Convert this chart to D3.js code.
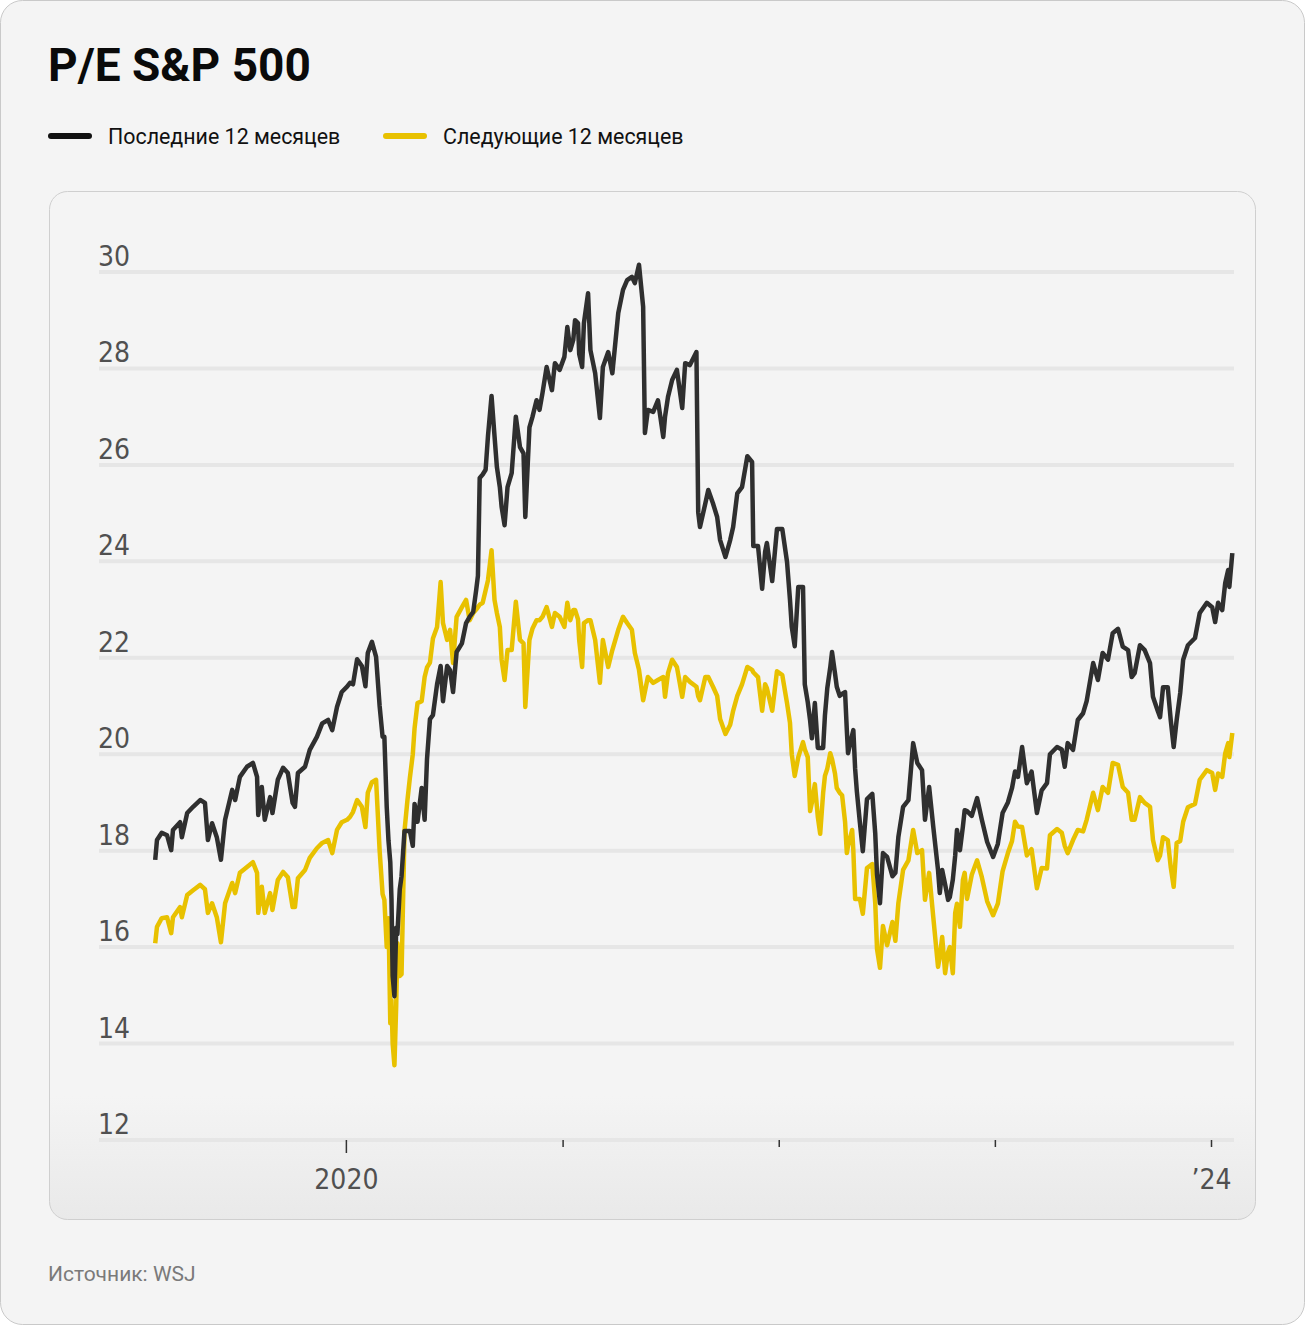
<!DOCTYPE html>
<html><head><meta charset="utf-8">
<script src="https://cdn.jsdelivr.net/npm/d3@7"></script>
<style>html,body{margin:0;padding:0;background:#ffffff;} svg{display:block;}</style>
</head><body>
<script>
const titleText = "P/E S&P 500";
const seriesNames = ["Последние 12 месяцев", "Следующие 12 месяцев"];
const sourceText = "Источник: WSJ";

const dates = [
"2019-02-13","2019-02-16","2019-02-24","2019-03-05","2019-03-12","2019-03-15","2019-03-27","2019-03-30","2019-04-08","2019-04-18",
"2019-04-30","2019-05-08","2019-05-13","2019-05-20","2019-05-28","2019-06-04","2019-06-11","2019-06-23","2019-06-28","2019-07-06",
"2019-07-18","2019-07-28","2019-08-04","2019-08-06","2019-08-12","2019-08-17","2019-08-26","2019-08-30","2019-09-08","2019-09-17",
"2019-09-25","2019-10-03","2019-10-07","2019-10-12","2019-10-24","2019-11-01","2019-11-13","2019-11-22","2019-12-02","2019-12-09",
"2019-12-17","2019-12-25","2020-01-03","2020-01-08","2020-01-13","2020-01-20","2020-01-28","2020-02-03","2020-02-07","2020-02-14",
"2020-02-21","2020-02-27","2020-03-03","2020-03-06","2020-03-10","2020-03-13","2020-03-16","2020-03-18","2020-03-20","2020-03-23",
"2020-03-26","2020-03-28","2020-04-01","2020-04-04","2020-04-09","2020-04-14","2020-04-18","2020-04-23","2020-04-26","2020-05-01",
"2020-05-08","2020-05-13","2020-05-17","2020-05-22","2020-05-27","2020-06-03","2020-06-09","2020-06-13","2020-06-20","2020-06-25",
"2020-06-30","2020-07-06","2020-07-15","2020-07-22","2020-07-28","2020-08-03","2020-08-08","2020-08-11","2020-08-14","2020-08-19",
"2020-08-24","2020-08-28","2020-09-03","2020-09-08","2020-09-12","2020-09-17","2020-09-20","2020-09-25","2020-09-30","2020-10-07",
"2020-10-14","2020-10-21","2020-10-27","2020-10-30","2020-11-06","2020-11-11","2020-11-18","2020-11-23","2020-11-28","2020-12-05",
"2020-12-14","2020-12-19","2020-12-27","2021-01-04","2021-01-09","2021-01-14","2021-01-19","2021-01-22","2021-01-27","2021-01-29",
"2021-02-03","2021-02-06","2021-02-13","2021-02-17","2021-02-25","2021-03-05","2021-03-10","2021-03-19","2021-03-26","2021-04-05",
"2021-04-13","2021-04-20","2021-04-28","2021-05-03","2021-05-10","2021-05-17","2021-05-20","2021-05-25","2021-06-03","2021-06-11",
"2021-06-20","2021-06-23","2021-06-28","2021-07-05","2021-07-13","2021-07-22","2021-07-27","2021-08-04","2021-08-15","2021-08-18",
"2021-08-21","2021-08-30","2021-09-04","2021-09-12","2021-09-19","2021-09-24","2021-10-03","2021-10-11","2021-10-16","2021-10-23",
"2021-10-31","2021-11-09","2021-11-17","2021-11-19","2021-11-27","2021-12-04","2021-12-09","2021-12-12","2021-12-21","2021-12-29",
"2022-01-07","2022-01-15","2022-01-20","2022-01-23","2022-01-28","2022-02-03","2022-02-11","2022-02-14","2022-02-19","2022-02-23",
"2022-02-26","2022-03-03","2022-03-08","2022-03-12","2022-03-17","2022-03-20","2022-03-24","2022-03-29","2022-04-01","2022-04-06",
"2022-04-09","2022-04-14","2022-04-18","2022-04-23","2022-04-26","2022-04-28","2022-05-05","2022-05-07","2022-05-10","2022-05-13",
"2022-05-18","2022-05-23","2022-05-30","2022-06-08","2022-06-13","2022-06-16","2022-06-21","2022-06-26","2022-07-03","2022-07-12",
"2022-07-17","2022-07-22","2022-07-30","2022-08-08","2022-08-16","2022-08-23","2022-08-31","2022-09-05","2022-09-12","2022-09-19",
"2022-09-27","2022-09-30","2022-10-04","2022-10-09","2022-10-14","2022-10-17","2022-10-22","2022-10-26","2022-10-29","2022-11-03",
"2022-11-08","2022-11-11","2022-11-15","2022-11-23","2022-12-02","2022-12-10","2022-12-19","2022-12-29","2023-01-06","2023-01-14",
"2023-01-23","2023-01-30","2023-02-04","2023-02-09","2023-02-16","2023-02-24","2023-03-04","2023-03-13","2023-03-21","2023-03-30",
"2023-04-04","2023-04-16","2023-04-24","2023-04-29","2023-05-04","2023-05-13","2023-05-21","2023-05-30","2023-06-05","2023-06-16",
"2023-06-24","2023-07-02","2023-07-11","2023-07-19","2023-07-28","2023-08-05","2023-08-14","2023-08-20","2023-08-25","2023-09-03",
"2023-09-11","2023-09-20","2023-09-25","2023-10-03","2023-10-07","2023-10-12","2023-10-20","2023-10-25","2023-10-30","2023-11-04",
"2023-11-10","2023-11-15","2023-11-23","2023-12-05","2023-12-13","2023-12-25","2024-01-03","2024-01-08","2024-01-13","2024-01-20",
"2024-01-25","2024-01-30","2024-02-01","2024-02-06"
];

const trailingPE = [
17.81,18.22,18.37,18.32,18.01,18.43,18.59,18.28,18.78,18.91,
19.05,18.99,18.22,18.57,18.28,17.81,18.64,19.26,19.05,19.53,
19.74,19.82,19.53,18.74,19.32,18.64,19.11,18.78,19.47,19.72,
19.61,18.99,18.91,19.61,19.74,20.09,20.36,20.64,20.71,20.50,
20.98,21.29,21.40,21.48,21.45,21.97,21.83,21.41,22.10,22.33,
22.02,21.00,20.36,20.36,18.90,18.20,17.76,17.00,15.40,14.98,
16.40,16.27,17.20,17.47,18.41,18.41,18.41,18.10,18.97,18.60,
19.30,18.64,19.90,20.73,20.81,21.45,21.83,21.10,21.83,21.74,
21.29,22.12,22.30,22.72,22.85,22.95,23.40,23.70,25.73,25.80,
25.90,26.60,27.43,26.60,25.96,25.54,25.13,24.75,25.54,25.83,
27.00,26.37,26.24,24.92,26.78,26.99,27.34,27.14,27.49,28.03,
27.55,28.11,27.97,28.24,28.86,28.38,28.59,29.00,28.94,28.30,
28.03,28.94,29.56,28.38,27.90,26.97,28.03,28.34,27.90,29.15,
29.63,29.83,29.90,29.77,30.15,29.28,26.66,27.14,27.10,27.34,
26.58,27.00,27.41,27.76,27.97,27.18,28.11,28.07,28.34,25.02,
24.71,25.20,25.48,25.20,24.92,24.44,24.09,24.44,24.71,25.41,
25.54,26.18,26.06,24.32,24.32,23.43,24.20,24.38,23.59,24.67,
24.67,23.99,23.20,22.64,22.24,23.47,23.47,21.45,21.08,20.70,
20.33,21.06,20.13,20.13,20.13,20.80,21.37,21.80,22.12,21.68,
21.40,21.21,21.25,21.29,20.50,20.02,20.40,20.50,19.70,19.22,
18.59,17.99,19.07,19.18,18.35,17.50,16.91,17.95,17.87,17.47,
17.54,18.28,18.91,19.05,20.23,19.82,19.67,18.64,19.32,18.49,
17.60,17.12,17.60,17.30,16.98,17.04,17.40,17.90,18.43,18.01,
18.50,18.84,18.82,18.72,19.09,18.64,18.18,17.87,18.14,18.78,
19.00,19.30,19.64,19.53,20.15,19.40,19.64,18.78,19.25,19.40,
20.00,20.15,20.10,19.74,20.23,20.09,20.71,20.85,21.10,21.89,
21.54,22.10,21.96,22.51,22.60,22.23,22.16,21.60,21.68,22.26,
22.16,21.89,21.19,20.90,20.77,21.39,21.39,20.71,20.15,20.71,
21.27,21.96,22.26,22.41,22.93,23.14,23.05,22.74,23.14,22.99,
23.55,23.82,23.47,24.17
];

const forwardPE = [
16.08,16.42,16.60,16.62,16.29,16.62,16.83,16.62,17.08,17.18,
17.29,17.20,16.71,16.91,16.62,16.10,16.91,17.33,17.12,17.54,
17.66,17.76,17.54,16.71,17.25,16.71,17.12,16.77,17.39,17.56,
17.45,16.83,16.83,17.43,17.60,17.85,18.05,18.16,18.22,17.95,
18.43,18.59,18.64,18.70,18.80,19.05,18.91,18.49,19.20,19.42,
19.47,18.00,17.10,16.98,16.00,16.60,14.42,14.90,14.00,13.55,
14.80,16.08,15.40,15.44,18.41,19.05,19.50,20.00,20.54,21.06,
21.10,21.60,21.80,21.90,22.40,22.64,23.57,22.72,22.37,22.58,
21.89,22.85,23.05,23.20,22.78,22.93,23.00,23.05,23.10,23.14,
23.40,23.61,24.23,23.20,22.93,22.64,21.96,21.54,22.16,22.16,
23.16,22.37,22.30,20.98,22.37,22.60,22.78,22.78,22.85,23.05,
22.64,22.93,22.85,22.64,23.14,22.78,22.99,22.99,22.80,22.37,
21.81,22.72,22.78,22.78,22.37,21.48,22.37,21.81,22.16,22.58,
22.85,22.72,22.58,22.10,21.75,21.12,21.30,21.60,21.48,21.54,
21.60,21.19,21.68,21.96,21.81,21.19,21.60,21.50,21.40,21.20,
21.12,21.60,21.60,21.40,21.21,20.73,20.42,20.61,20.90,21.21,
21.45,21.81,21.75,21.70,21.60,20.90,21.45,21.37,20.90,21.72,
21.64,21.06,20.65,20.00,19.55,19.94,20.25,20.10,19.94,18.82,
19.00,19.38,18.70,18.35,19.20,19.55,19.70,20.02,19.90,19.60,
19.30,19.20,19.15,18.60,17.95,18.10,18.43,18.00,17.00,17.00,
17.00,16.69,17.64,17.72,16.91,15.96,15.57,16.44,16.04,16.52,
16.13,16.91,17.60,17.80,18.43,17.95,18.01,16.98,17.54,16.62,
15.59,15.80,16.21,15.46,15.90,16.00,15.46,16.71,16.90,16.42,
17.39,17.54,17.00,17.50,17.80,17.45,16.95,16.66,16.90,17.57,
17.95,18.20,18.60,18.50,18.49,17.90,18.03,17.22,17.64,17.63,
18.32,18.45,18.37,18.10,17.95,18.22,18.43,18.40,18.64,19.20,
18.84,19.32,19.20,19.82,19.78,19.32,19.20,18.64,18.64,19.11,
18.99,18.91,18.22,17.80,17.90,18.28,18.22,17.66,17.25,18.16,
18.20,18.60,18.90,18.97,19.47,19.67,19.61,19.26,19.60,19.53,
20.02,20.23,19.94,20.44
];

const yTicks = [12,14,16,18,20,22,24,26,28,30];
const xTickDates = ["2020-01-01","2021-01-01","2022-01-01","2023-01-01","2024-01-01"];
const xTickLabels = ["2020","","","","’24"];
const seriesColors = ["#2f2f2f","#e8c100"];

const W = 1305, H = 1325;
const parse = d3.utcParse("%Y-%m-%d");
const svg = d3.select("body").append("svg").attr("width", W).attr("height", H);

const defs = svg.append("defs");
const grad = defs.append("linearGradient").attr("id","panelGrad").attr("x1",0).attr("y1",0).attr("x2",0).attr("y2",1);
grad.append("stop").attr("offset","0%").attr("stop-color","#f4f4f4");
grad.append("stop").attr("offset","88%").attr("stop-color","#f4f4f4");
grad.append("stop").attr("offset","100%").attr("stop-color","#e9e9e9");

// outer card
svg.append("rect").attr("x",0.5).attr("y",0.5).attr("width",W-1).attr("height",H-1)
  .attr("rx",22).attr("fill","#f4f4f4").attr("stroke","#c9c9c9").attr("stroke-width",1);

// title
svg.append("text").attr("x",48).attr("y",81).text(titleText)
  .attr("font-family","Roboto, 'Liberation Sans', sans-serif").attr("font-weight",700)
  .attr("font-size",46).attr("fill","#0a0a0a");

// legend
const legendX = [48, 383];
seriesNames.forEach((name,i)=>{
  const g = svg.append("g");
  g.append("line").attr("x1",legendX[i]+3).attr("x2",legendX[i]+41).attr("y1",136).attr("y2",136)
    .attr("stroke", i===0 ? "#111111" : seriesColors[1]).attr("stroke-width",6).attr("stroke-linecap","round");
  g.append("text").attr("x",legendX[i]+60).attr("y",144).text(name)
    .attr("font-family","Roboto, 'Liberation Sans', sans-serif").attr("font-size",21.4).attr("fill","#111");
});

// inner panel
svg.append("rect").attr("x",49.5).attr("y",191.5).attr("width",1206).attr("height",1028)
  .attr("rx",18).attr("fill","url(#panelGrad)").attr("stroke","#cfcfcf").attr("stroke-width",1);

// scales
const plotL = 99, plotR = 1234;
const x = d3.scaleUtc().domain([parse("2019-01-01"), parse("2024-01-01")]).range([129.75, 1211]);
const y = d3.scaleLinear().domain([12,30]).range([1140, 272]);

// gridlines
const grid = svg.append("g");
grid.selectAll("line").data(yTicks).join("line")
  .attr("x1",plotL).attr("x2",plotR).attr("y1",d=>y(d)).attr("y2",d=>y(d))
  .attr("stroke","#e6e6e6").attr("stroke-width",4);

const tickFont = "'Liberation Sans Narrow', 'Arial Narrow', 'DejaVu Sans Condensed', sans-serif";
grid.selectAll("text").data(yTicks).join("text")
  .attr("x",98).attr("y",d=>y(d)-6).text(d=>d)
  .attr("font-family",tickFont).attr("font-size",28).attr("fill","#505050");

// x axis
const xAxis = d3.axisBottom(x).tickValues(xTickDates.map(parse))
  .tickFormat((d,i)=>xTickLabels[i]).tickSizeOuter(0).tickSize(7).tickPadding(22);
const ax = svg.append("g").attr("transform","translate(0,1140)").call(xAxis);
ax.select(".domain").remove();
ax.selectAll(".tick line").attr("stroke","#333").attr("stroke-width",1.5)
  .attr("y2",(d,i)=> xTickLabels[i] === "2020" ? 13 : 7);
ax.selectAll(".tick text").attr("font-family",tickFont).attr("font-size",28).attr("fill","#505050");

// lines
const rows = dates.map((d,i)=>({date:parse(d), t:trailingPE[i], f:forwardPE[i]}));
const lineF = d3.line().x(d=>x(d.date)).y(d=>y(d.f)).curve(d3.curveLinear);
const lineT = d3.line().x(d=>x(d.date)).y(d=>y(d.t)).curve(d3.curveLinear);
svg.append("path").datum(rows).attr("d",lineF).attr("fill","none")
  .attr("stroke",seriesColors[1]).attr("stroke-width",4.5).attr("stroke-linejoin","round");
svg.append("path").datum(rows).attr("d",lineT).attr("fill","none")
  .attr("stroke",seriesColors[0]).attr("stroke-width",4.5).attr("stroke-linejoin","round");

// source
svg.append("text").attr("x",48).attr("y",1281).text(sourceText)
  .attr("font-family","Roboto, 'Liberation Sans', sans-serif").attr("font-size",21).attr("fill","#7a7a7a");
</script>
</body></html>
